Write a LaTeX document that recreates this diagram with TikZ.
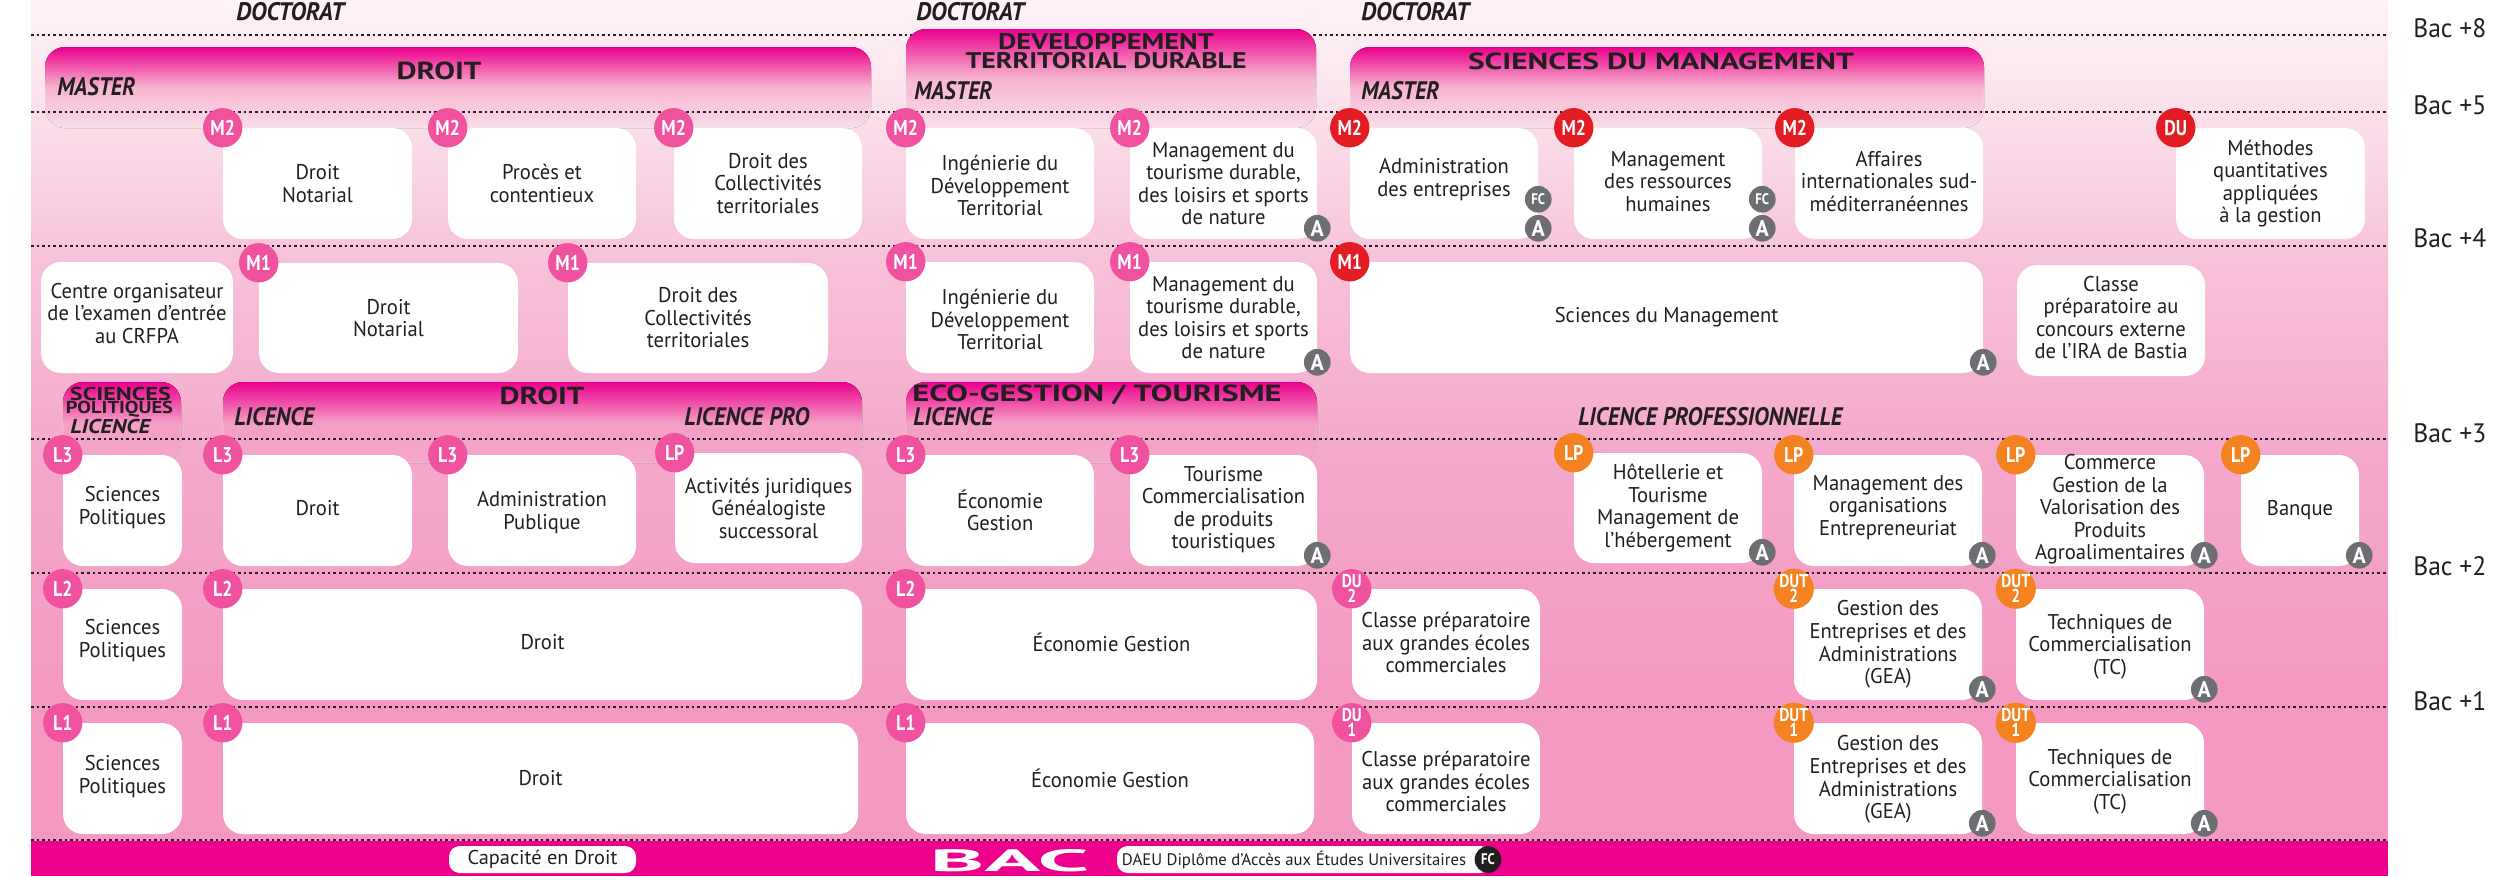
\documentclass[tikz,border=0pt]{standalone}
\usepackage{fontspec}
\usepackage{graphicx}
\setmainfont{PT Sans}[FakeStretch=0.965]
\newfontface\condb{PT Sans Bold}[FakeStretch=0.84]
\usetikzlibrary{calc}
\definecolor{ink}{HTML}{231F20}
\definecolor{mag}{HTML}{EC008C}
\definecolor{pinkb}{HTML}{F0529F}
\definecolor{redb}{HTML}{E31B23}
\definecolor{orab}{HTML}{F58220}
\definecolor{greyb}{HTML}{6D6E71}
\definecolor{bga}{HTML}{FEF3F7}
\definecolor{bgb}{HTML}{FADDE9}
\definecolor{bgc}{HTML}{F7C1DA}
\definecolor{bgd}{HTML}{F4A8CB}
\definecolor{bge}{HTML}{F499C2}
\definecolor{hmid}{HTML}{F6B6D1}
\definecolor{hmidl}{HTML}{F39EC6}
\tikzset{
 x=0.75pt,y=-0.75pt,
 bxs/.style={fill=white,draw=none,rounded corners=15pt,inner sep=0pt},
 bxt/.style={text=ink,align=center,inner sep=0pt,font=\fontsize{16}{16.9}\selectfont},
 bdg/.style={circle,minimum size=29.5pt,inner sep=0pt,text=white,align=center,font=\fontsize{16}{16}\condb},
 bdgs/.style={circle,minimum size=29.5pt,inner sep=0pt,text=white,align=center,font=\fontsize{14}{9.8}\condb},
 smb/.style={circle,fill=greyb,minimum size=20pt,inner sep=0pt,text=white,font=\fontsize{17}{17}\bfseries\selectfont},
 smf/.style={circle,fill=greyb,minimum size=20pt,inner sep=0pt,text=white,font=\fontsize{11.5}{11.5}\condb},
 lvl/.style={draw=ink,line width=1.6pt,dash pattern=on 1.9pt off 2.3pt},
 ttl/.style={text=ink,inner sep=0pt,font=\fontsize{18.5}{18.5}\bfseries\selectfont},
 itl/.style={text=ink,inner sep=0pt,anchor=west,font=\fontsize{19}{19}\bfseries\itshape\selectfont},
 bacl/.style={text=ink,inner sep=0pt,anchor=west,font=\fontsize{20}{20}\selectfont},
 hedge/.style={draw=white,opacity=0.35,line width=0.5pt,rounded corners=15pt},
}
\newcommand{\tgt}{\fontsize{16}{15.5}\selectfont}
\newcommand{\fitw}[2]{\pgfmathsetmacro\fwd{#1*0.75}\resizebox{\fwd pt}{\height}{#2}}
\newcommand{\bx}[7][0]{%
 \pgfmathsetmacro\bw{(#5-#3)*0.75}\pgfmathsetmacro\bh{(#6-#4)*0.75}%
 \node[bxs,minimum width=\bw pt,minimum height=\bh pt] (#2) at ({(#3+#5)/2},{(#4+#6)/2}) {};
 \node[bxt] (#2t) at ($(#2.center)+(0,#1)$) {#7};}
\newcommand{\hdr}[7]{% name x1 y1 x2 y2 midcolor bottomcolor
 \fill[top color=mag,bottom color=#7,middle color=#6,rounded corners=15pt] (#2,#3) rectangle (#4,#5);
 \draw[hedge] (#2,#5-40) -- (#2,#5) -- (#4,#5) -- (#4,#5-40);
 \coordinate (#1) at (#2,#3);}
\newcommand{\bdgn}[3]{\node[bdg,fill=#2] (#1b) at (#1.north west) {#3};}
\newcommand{\bdgt}[3]{\node[bdgs,fill=#2] (#1b) at (#1.north west) {#3};}
\newcommand{\bA}[1]{\node[smb,yshift=8.25pt] (#1a) at (#1.south east) {A};}
\newcommand{\bF}[1]{\node[smf,yshift=30pt] (#1f) at (#1.south east) {FC};}
\begin{document}
\begin{tikzpicture}
\useasboundingbox (0,0) rectangle (2498,876);
\fill[white] (0,0) rectangle (2498,876);
% background
\fill[top color=bga,bottom color=bgb] (31,0) rectangle (2388,130.5);
\fill[top color=bgb,bottom color=bgc] (31,130) rectangle (2388,262.5);
\fill[top color=bgc,bottom color=bgd] (31,262) rectangle (2388,455.5);
\fill[top color=bgd,bottom color=bge] (31,455) rectangle (2388,700.5);
\fill[bge] (31,700) rectangle (2388,842);
\fill[mag] (31,841) rectangle (2388,876);
\draw[lvl] (31,35) -- (2388,35);
% headers
\hdr{hdroit}{45}{47}{871}{128}{hmid}{bgb}
\hdr{hdev}{906}{29}{1316}{128}{hmid}{bgb}
\hdr{hsm}{1350}{47}{1984}{128}{hmid}{bgb}
\hdr{hsp}{63}{382}{181}{463}{hmidl}{bgd}
\hdr{hdl}{223}{382}{862}{463}{hmidl}{bgd}
\hdr{hec}{906}{382}{1317}{463}{hmidl}{bgd}
% levels
\foreach \yy in {112,246,439,573,707,840} \draw[lvl] (31,\yy) -- (2388,\yy);
% titles
\node[itl] (doc1) at (236,12) {\fitw{108}{DOCTORAT}};
\node[itl] (doc2) at (916,12) {\fitw{108}{DOCTORAT}};
\node[itl] (doc3) at (1361,12) {\fitw{108}{DOCTORAT}};
\node[ttl] (t1) at (439,71) {\fitw{85}{DROIT}};
\node[itl] (m1) at (57,87) {\fitw{78}{MASTER}};
\node[ttl,font=\fontsize{17}{17}\bfseries\selectfont] (t2a) at (1106,42) {\fitw{216}{DEVELOPPEMENT}};
\node[ttl,font=\fontsize{17}{17}\bfseries\selectfont] (t2b) at (1106,61) {\fitw{281}{TERRITORIAL DURABLE}};
\node[itl] (m2) at (914,91) {\fitw{78}{MASTER}};
\node[ttl,font=\fontsize{17.5}{17.5}\bfseries\selectfont] (t3) at (1661,61) {\fitw{386}{SCIENCES DU MANAGEMENT}};
\node[itl] (m3) at (1361,91) {\fitw{78}{MASTER}};
\node[ttl,font=\fontsize{14}{14}\bfseries\selectfont] (t4a) at (120.5,394) {\fitw{101}{SCIENCES}};
\node[ttl,font=\fontsize{13}{13}\bfseries\selectfont] (t4b) at (119.5,409) {\fitw{107}{POLITIQUES}};
\node[itl,font=\fontsize{15}{15}\bfseries\itshape\selectfont] (l0) at (70,426) {\fitw{80}{LICENCE}};
\node[ttl] (t5) at (542,396) {\fitw{85}{DROIT}};
\node[itl] (l1) at (234,417) {\fitw{80}{LICENCE}};
\node[itl] (l2) at (684,417) {\fitw{125}{LICENCE PRO}};
\node[ttl,font=\fontsize{17.5}{17.5}\bfseries\selectfont] (t6) at (1097,395) {\fitw{369}{ECO-GESTION / TOURISME}};
\node[itl] (l3) at (913,417) {\fitw{80}{LICENCE}};
\node[itl] (l4) at (1578,417) {\fitw{264}{LICENCE PROFESSIONNELLE}};
% bac labels
\node[bacl] (b8) at (2413,28) {\fitw{73}{Bac +8}};
\node[bacl] (b5) at (2413,105) {\fitw{73}{Bac +5}};
\node[bacl] (b4) at (2413,238) {\fitw{73}{Bac +4}};
\node[bacl] (b3) at (2413,433) {\fitw{73}{Bac +3}};
\node[bacl] (b2) at (2413,566) {\fitw{73}{Bac +2}};
\node[bacl] (b1) at (2413,701) {\fitw{73}{Bac +1}};
% M2
\bx{dna}{223}{128}{412}{239}{Droit\\Notarial}
\bx{pc}{448}{128}{636}{239}{Procès et\\contentieux}
\bx{dca}{674}{128}{862}{239}{Droit des\\Collectivités\\territoriales}
\bx[2]{inga}{906}{128}{1094}{239}{Ingénierie du\\Développement\\Territorial}
\bx{mta}{1130}{128}{1317}{239}{\tgt Management du\\tourisme durable,\\des loisirs et sports\\de nature}
\bx[-4]{adm}{1350}{128}{1538}{239}{Administration\\des entreprises}
\bx[-2]{rh}{1574}{128}{1762}{239}{Management\\des ressources\\humaines}
\bx[-2]{aff}{1795}{128}{1983}{239}{Affaires\\internationales sud-\\méditerranéennes}
\bx{meth}{2176}{128}{2365}{239}{Méthodes\\quantitatives\\appliquées\\à la gestion}
% M1
\bx[-4]{ctr}{41}{262}{233}{373}{Centre organisateur\\de l’examen d’entrée\\au CRFPA}
\bx{dnb}{259}{263}{518}{373}{Droit\\Notarial}
\bx{dcb}{568}{263}{828}{373}{Droit des\\Collectivités\\territoriales}
\bx[2]{ingb}{906}{262}{1094}{373}{Ingénierie du\\Développement\\Territorial}
\bx{mtb}{1130}{262}{1317}{373}{\tgt Management du\\tourisme durable,\\des loisirs et sports\\de nature}
\bx{sm}{1350}{262}{1983}{373}{Sciences du Management}
\bx[-3]{cla}{2017}{265}{2205}{376}{\tgt Classe\\préparatoire au\\concours externe\\de l'IRA de Bastia}
% L3
\bx[-3]{spc}{63}{455}{182}{566}{Sciences\\Politiques}
\bx[-2]{drc}{223}{455}{412}{566}{Droit}
\bx[2]{apc}{448}{455}{636}{566}{Administration\\Publique}
\bx{ajc}{675}{453}{862}{563}{Activités juridiques\\Généalogiste\\successoral}
\bx{ecc}{906}{455}{1094}{566}{Économie\\Gestion}
\bx[-1]{toc}{1130}{455}{1317}{566}{\tgt Tourisme\\Commercialisation\\de produits\\touristiques}
\bx{hot}{1574}{453}{1762}{563}{Hôtellerie et\\Tourisme\\Management de\\l'hébergement}
\bx[-3]{org}{1794}{455}{1982}{566}{Management des\\organisations\\Entrepreneuriat}
\bx[-1]{com}{2016}{455}{2204}{566}{\tgt Commerce\\Gestion de la\\Valorisation des\\Produits\\Agroalimentaires}
\bx{ban}{2241}{455}{2359}{566}{Banque}
% L2
\bx[-4]{spd}{63}{589}{182}{700}{Sciences\\Politiques}
\bx[-2]{drd}{223}{589}{862}{700}{Droit}
\bx[-2]{ecd}{906}{589}{1317}{700}{Économie Gestion}
\bx[-2]{cld}{1352}{589}{1540}{700}{Classe préparatoire\\aux grandes écoles\\commerciales}
\bx{ged}{1794}{589}{1982}{700}{Gestion des\\Entreprises et des\\Administrations\\(GEA)}
\bx[2]{tcd}{2016}{589}{2204}{700}{Techniques de\\Commercialisation\\(TC)}
% L1
\bx[-2]{spe}{63}{723}{182}{834}{Sciences\\Politiques}
\bx{dre}{223}{723}{858}{834}{Droit}
\bx{ece}{906}{723}{1314}{834}{Économie Gestion}
\bx[3]{cle}{1352}{723}{1540}{834}{Classe préparatoire\\aux grandes écoles\\commerciales}
\bx[1]{gee}{1794}{723}{1982}{834}{Gestion des\\Entreprises et des\\Administrations\\(GEA)}
\bx[3]{tce}{2016}{723}{2204}{834}{Techniques de\\Commercialisation\\(TC)}
% badges
\foreach \n/\t in {dna/M2,pc/M2,dca/M2,inga/M2,mta/M2,dnb/M1,dcb/M1,ingb/M1,mtb/M1,spc/L3,drc/L3,apc/L3,ajc/LP,ecc/L3,toc/L3,spd/L2,drd/L2,ecd/L2,spe/L1,dre/L1,ece/L1} {\bdgn{\n}{pinkb}{\t}}
\foreach \n/\t in {adm/M2,rh/M2,aff/M2,meth/DU,sm/M1} {\bdgn{\n}{redb}{\t}}
\foreach \n in {hot,org,com,ban} {\bdgn{\n}{orab}{LP}}
\bdgt{cld}{pinkb}{DU\\2}
\bdgt{cle}{pinkb}{DU\\1}
\bdgt{ged}{orab}{DUT\\2}
\bdgt{tcd}{orab}{DUT\\2}
\bdgt{gee}{orab}{DUT\\1}
\bdgt{tce}{orab}{DUT\\1}
\foreach \n in {mta,adm,rh,mtb,sm,toc,hot,org,com,ban,ged,tcd,gee,tce} {\bA{\n}}
\bF{adm}
\bF{rh}
% bottom band
\node[fill=white,rounded corners=8pt,minimum width=140.25pt,minimum height=20.25pt,inner sep=0pt,text=ink,font=\fontsize{15}{15}\selectfont] (cap) at (542.5,859.5) {\fitw{150}{Capacité en Droit}};
\node[text=white,inner sep=0pt] (bac) at (1009.5,861) {\resizebox{119.25pt}{16.5pt}{\bfseries BAC}};
\node[fill=white,rounded corners=8pt,minimum width=280.5pt,minimum height=20.25pt,inner sep=0pt] (dae) at (1304,859.5) {};
\node[text=ink,inner sep=0pt,font=\fontsize{12.5}{12.5}\selectfont] (daet) at (1294,860) {\fitw{344}{DAEU Diplôme d’Accès aux Études Universitaires}};
\node[circle,fill=ink,minimum size=20pt,inner sep=0pt,text=white,font=\fontsize{11.5}{11.5}\condb] (daef) at (1488,859.5) {FC};
\end{tikzpicture}
\end{document}
